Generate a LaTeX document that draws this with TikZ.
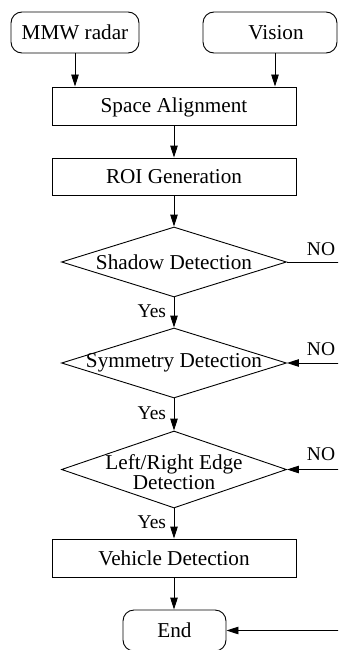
\documentclass[tikz,border=0pt]{standalone}
\usepackage{fontspec}
\setmainfont{Liberation Serif}
\usetikzlibrary{shapes.geometric,arrows.meta}
\begin{document}
\begin{tikzpicture}[x=1pt,y=1pt,
  line width=0.9pt,
  >={Triangle[length=12pt,width=7.5pt]},
  base/.style={draw, inner sep=0pt, font=\fontsize{21.2}{19.5}\selectfont},
  rbox/.style={base, rounded corners=11pt, minimum height=41pt, text height=14pt, text depth=0pt},
  pbox/.style={base, minimum width=244pt, minimum height=38pt, text height=14pt, text depth=0pt},
  dia/.style={base, diamond, minimum width=225pt, minimum height=70pt},
  dtext/.style={font=\fontsize{21.2}{19.5}\selectfont, inner sep=0pt, align=center},
  lbl/.style={font=\fontsize{19.5}{19.5}\selectfont, inner sep=0pt, text height=12.9pt, text depth=0pt},
  yes/.style={lbl, anchor=east, xshift=-7.5pt, pos=0.45},
]
\useasboundingbox (0,0) rectangle (338,-650);
\fill[white] (0,0) rectangle (338,-650);
\clip (0,0) rectangle (338,-650);

\node[rbox, minimum width=128pt] (radar) at (75,-32.5) {MMW radar};
\node[rbox, minimum width=134pt, label={[dtext, text height=14pt, text depth=0pt, xshift=6pt]center:Vision}] (vision) at (270,-32.5) {};
\node[pbox] (space) at (174,-106) {Space Alignment};
\node[pbox, minimum height=37pt] (roi) at (174,-176.5) {ROI Generation};
\node[dia, label={[dtext]center:Shadow Detection}] (shadow) at (174,-262) {};
\node[dia, label={[dtext]center:Symmetry Detection}] (sym) at (174,-363) {};
\node[dia, minimum height=77pt, label={[dtext, yshift=-2.5pt]center:{Left/Right Edge\\Detection}}] (lr) at (174,-469.5) {};
\node[pbox] (veh) at (174,-558) {Vehicle Detection};
\node[rbox, minimum width=103pt] (end) at (174.5,-630.5) {End};

\coordinate (vx) at (275,0);
\coordinate (ns) at (340,-262);
\coordinate (nsym) at (340,-363);
\coordinate (nlr) at (340,-469.5);
\coordinate (nend) at (340,-630.5);

\draw[->] (radar.south) -- (radar.south |- space.north);
\draw[->] (vision.south -| vx) -- (space.north -| vx);
\draw[->] (space) -- (roi);
\draw[->] (roi) -- (shadow);
\draw[->] (shadow) -- node[yes]{Yes} (sym);
\draw[->] (sym) -- node[yes]{Yes} (lr);
\draw[->] (lr) -- node[yes]{Yes} (veh);
\draw[->] (veh.south) -- (veh.south |- end.north);
\draw (shadow.east) -- (ns);
\draw[->] (nsym) -- (sym.east);
\draw[->] (nlr) -- (lr.east);
\draw[->] (nend) -- (end.east);

\node[lbl] (no1) at (321,-249) {NO};
\node[lbl] (no2) at (321,-349) {NO};
\node[lbl] (no3) at (321,-454.5) {NO};
\end{tikzpicture}
\end{document}
